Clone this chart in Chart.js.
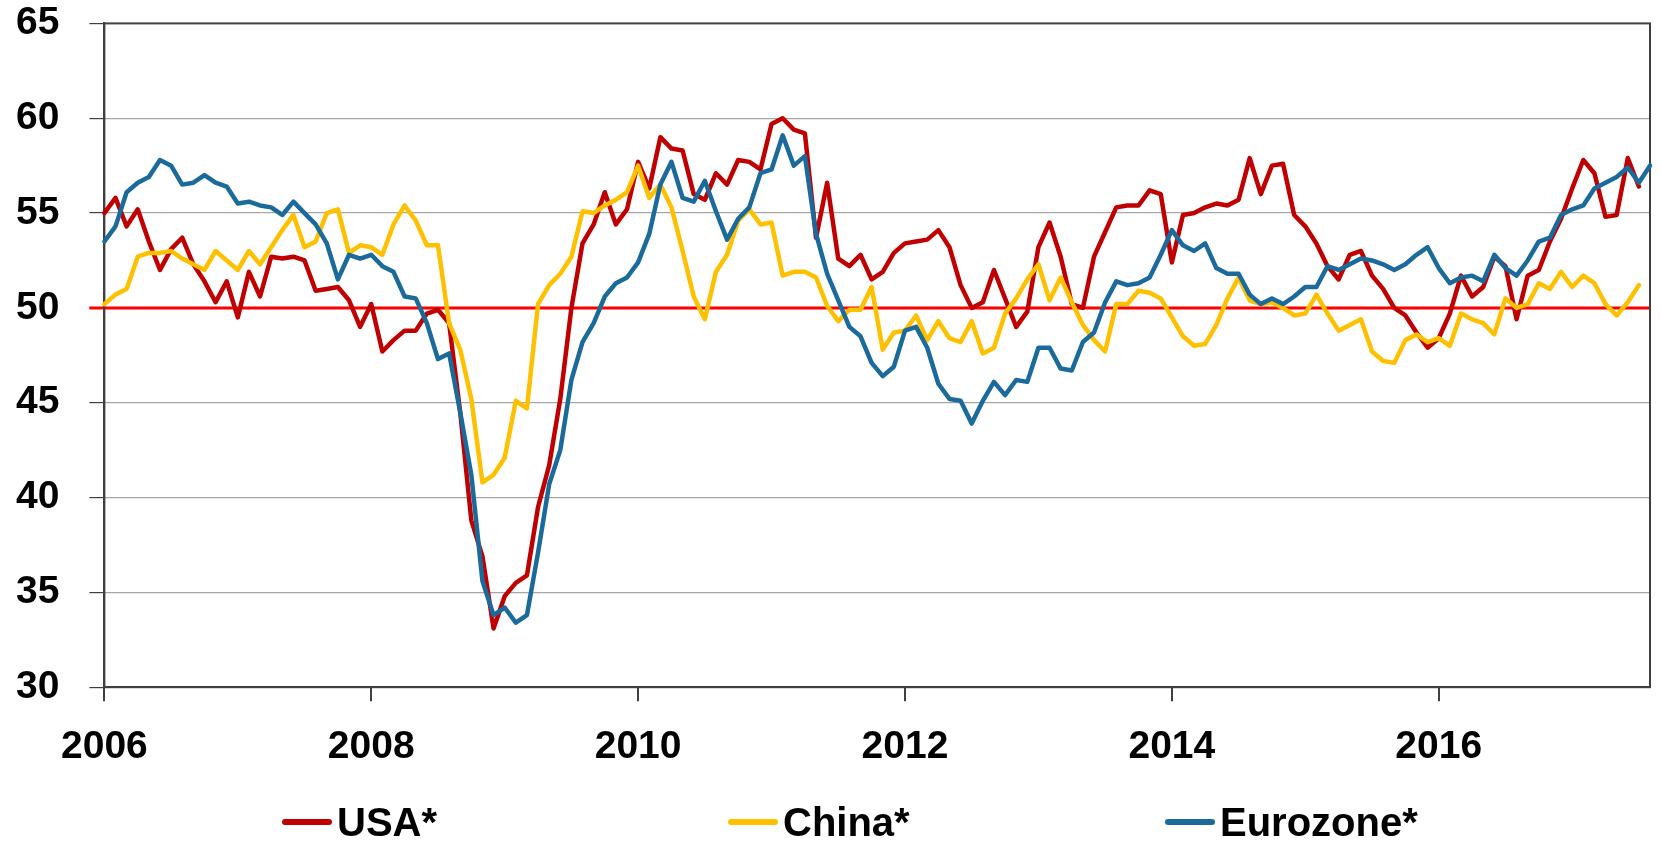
<!DOCTYPE html>
<html>
<head>
<meta charset="utf-8">
<script src="https://cdn.jsdelivr.net/npm/chart.js@4.4.1/dist/chart.umd.min.js"></script>
<style>
  body { margin: 0; background: #fff; }
  #wrap { position: relative; width: 1661px; height: 841px; overflow: hidden; }
  #pmiChart { position: absolute; left: -29px; top: -30px; }
  #legend { position: absolute; left: 0; top: 800px; width: 1661px; height: 44px;
            font: bold 40px 'Liberation Sans', Arial, sans-serif; color: #000; }
  .item { position: absolute; top: 0; height: 44px; display: flex; align-items: center; white-space: nowrap; }
  .swatch { width: 50px; height: 6px; border-radius: 3px; margin-right: 5px; }
</style>
</head>
<body>
<div id="wrap">
  <canvas id="pmiChart" width="1702" height="898"></canvas>
  <div id="legend"></div>
</div>
<script>
// monthly, Jan 2006 .. Aug 2017
const startYear = 2006;
const monthCount = 140;
const yearTicks = ['2006', '2008', '2010', '2012', '2014', '2016'];

const usa = [
  55.0, 55.8, 54.3, 55.2, 53.5, 52.0, 53.1, 53.7, 52.3, 51.4, 50.3, 51.4,
  49.5, 51.9, 50.6, 52.7, 52.6, 52.7, 52.5, 50.9, 51.0, 51.1, 50.4, 49.0,
  50.2, 47.7, 48.3, 48.8, 48.8, 49.7, 49.9, 49.2, 44.5, 38.8, 36.9, 33.1,
  34.8, 35.5, 35.9, 39.5, 41.7, 45.2, 50.0, 53.4, 54.4, 56.1, 54.4, 55.2,
  57.7, 56.3, 59.0, 58.4, 58.3, 56.0, 55.7, 57.1, 56.5, 57.8, 57.7, 57.3,
  59.7, 60.0, 59.4, 59.2, 53.7, 56.6, 52.6, 52.2, 52.8, 51.5, 51.9, 52.9,
  53.4, 53.5, 53.6, 54.1, 53.2, 51.2, 50.0, 50.3, 52.0, 50.5, 49.0, 49.8,
  53.2, 54.5, 52.7, 50.2, 50.0, 52.7, 54.0, 55.3, 55.4, 55.4, 56.2, 56.0,
  52.4, 54.9, 55.0, 55.3, 55.5, 55.4, 55.7, 57.9, 56.0, 57.5, 57.6, 54.9,
  54.3, 53.4, 52.2, 51.5, 52.8, 53.0, 51.7, 51.0, 50.0, 49.6, 48.7, 47.9,
  48.4, 49.7, 51.7, 50.6, 51.1, 52.7, 52.2, 49.4, 51.7, 52.0, 53.5, 54.7,
  56.3, 57.8, 57.1, 54.8, 54.9, 57.9, 56.4
];

const china = [
  50.2, 50.7, 51.0, 52.7, 52.9, 52.9, 53.0, 52.6, 52.3, 52.0, 53.0, 52.5,
  52.0, 53.0, 52.3, 53.2, 54.1, 54.9, 53.2, 53.5, 55.0, 55.2, 52.9, 53.3,
  53.2, 52.8, 54.4, 55.4, 54.6, 53.3, 53.3, 49.2, 47.8, 45.2, 40.8, 41.2,
  42.1, 45.1, 44.7, 50.2, 51.2, 51.8, 52.7, 55.1, 55.0, 55.4, 55.7, 56.1,
  57.5, 55.8, 56.5, 55.3, 53.0, 50.6, 49.4, 51.9, 52.8, 54.6, 55.2, 54.4,
  54.5, 51.7, 51.9, 51.9, 51.6, 50.1, 49.3, 49.9, 49.9, 51.1, 47.8, 48.7,
  48.8, 49.6, 48.3, 49.3, 48.4, 48.2, 49.3, 47.6, 47.9, 49.7, 50.5, 51.5,
  52.3, 50.4, 51.6, 50.3, 49.1, 48.3, 47.7, 50.2, 50.2, 50.9, 50.8, 50.5,
  49.5, 48.5, 48.0, 48.1, 49.1, 50.5, 51.6, 50.4, 50.2, 50.3, 50.0, 49.6,
  49.7, 50.7, 49.7, 48.8, 49.1, 49.4, 47.7, 47.2, 47.1, 48.3, 48.6, 48.2,
  48.4, 48.0, 49.7, 49.4, 49.2, 48.6, 50.5, 50.0, 50.2, 51.3, 51.0, 51.9,
  51.1, 51.7, 51.3, 50.2, 49.6, 50.3, 51.2
];

const eurozone = [
  53.5, 54.3, 56.1, 56.6, 56.9, 57.8, 57.5, 56.5, 56.6, 57.0, 56.6, 56.4,
  55.5, 55.6, 55.4, 55.3, 54.9, 55.6, 55.0, 54.4, 53.4, 51.5, 52.8, 52.6,
  52.8, 52.2, 51.9, 50.6, 50.5, 49.2, 47.3, 47.6, 44.5, 41.2, 35.6, 33.8,
  34.2, 33.4, 33.8, 37.1, 40.7, 42.5, 46.2, 48.2, 49.2, 50.6, 51.3, 51.6,
  52.4, 53.9, 56.5, 57.7, 55.8, 55.6, 56.7, 55.1, 53.6, 54.7, 55.3, 57.1,
  57.3, 59.1, 57.5, 58.0, 53.9, 51.8, 50.4, 49.0, 48.5, 47.1, 46.4, 46.9,
  48.8, 49.0, 47.9, 46.0, 45.2, 45.1, 43.9, 45.1, 46.1, 45.4, 46.2, 46.1,
  47.9, 47.9, 46.8, 46.7, 48.2, 48.7, 50.3, 51.4, 51.2, 51.3, 51.6, 52.8,
  54.1, 53.3, 53.0, 53.4, 52.1, 51.8, 51.8, 50.7, 50.2, 50.5, 50.2, 50.6,
  51.1, 51.1, 52.2, 52.0, 52.3, 52.6, 52.5, 52.3, 52.0, 52.3, 52.8, 53.2,
  52.1, 51.3, 51.6, 51.7, 51.4, 52.8, 52.1, 51.7, 52.5, 53.5, 53.7, 54.9,
  55.2, 55.4, 56.3, 56.6, 56.9, 57.4, 56.6, 57.5
];

const seriesNames = ['USA*', 'China*', 'Eurozone*'];
const seriesColors = ['#C00000', '#FFC000', '#1B6A9C'];
const threshold = 50;

const labels = [];
for (let i = 0; i < monthCount; i++) {
  const y = startYear + Math.floor(i / 12);
  const m = (i % 12) + 1;
  labels.push(y + '-' + (m < 10 ? '0' + m : m));
}

const tickFont = { family: "'Liberation Sans', Arial, sans-serif", size: 39, weight: 'bold' };

// frame round the plot + red 50 line
const framePlugin = {
  id: 'frame',
  beforeDatasetsDraw(chart) {
    const { ctx, chartArea: a, scales } = chart;
    const y50 = scales.y.getPixelForValue(threshold);
    ctx.save();
    ctx.strokeStyle = '#FF0000';
    ctx.lineWidth = 3;
    ctx.beginPath();
    ctx.moveTo(a.left - 15, y50);
    ctx.lineTo(a.right, y50);
    ctx.stroke();
    ctx.strokeStyle = '#404040';
    ctx.lineWidth = 2;
    ctx.strokeRect(a.left, a.top, a.right - a.left, a.bottom - a.top);
    ctx.restore();
  }
};

const data = [usa, china, eurozone];

new Chart(document.getElementById('pmiChart'), {
  type: 'line',
  data: {
    labels: labels,
    datasets: data.map((d, k) => ({
      label: seriesNames[k],
      data: d,
      borderColor: seriesColors[k],
      backgroundColor: seriesColors[k],
      borderWidth: 4.5,
      borderJoinStyle: 'round',
      borderCapStyle: 'round',
      pointRadius: 0,
      tension: 0,
      order: 2 - k
    }))
  },
  options: {
    responsive: false,
    animation: false,
    devicePixelRatio: 1,
    layout: { padding: { top: 23, left: 15, right: 11, bottom: 74 } },
    plugins: { legend: { display: false }, tooltip: { enabled: false } },
    scales: {
      x: {
        type: 'category',
        offset: false,
        grid: {
          drawOnChartArea: false,
          tickLength: 14,
          color: ctx => (ctx.index % 24 === 0 ? '#404040' : 'rgba(0,0,0,0)'),
          lineWidth: 2
        },
        border: { display: true, color: '#404040', width: 2 },
        ticks: {
          autoSkip: false,
          maxRotation: 0,
          minRotation: 0,
          padding: 23,
          color: '#000',
          font: tickFont,
          callback: (v, i) => (i % 24 === 0 ? yearTicks[i / 24] : '')
        }
      },
      y: {
        min: 30,
        max: 65,
        grid: {
          tickLength: 15,
          color: ctx => (ctx.tick && (ctx.tick.value === 30 || ctx.tick.value === 65) ? 'rgba(0,0,0,0)' : '#A6A6A6'),
          tickColor: '#404040',
          lineWidth: 1.2
        },
        border: { display: true, color: '#404040', width: 2 },
        ticks: { stepSize: 5, padding: 30, color: '#000', font: tickFont }
      }
    }
  },
  plugins: [framePlugin]
});

// legend under the plot
const legendX = [282, 728, 1165];
const legend = document.getElementById('legend');
seriesNames.forEach((name, k) => {
  const item = document.createElement('div');
  item.className = 'item';
  item.style.left = legendX[k] + 'px';
  const sw = document.createElement('span');
  sw.className = 'swatch';
  sw.style.background = seriesColors[k];
  const tx = document.createElement('span');
  tx.textContent = name;
  item.appendChild(sw);
  item.appendChild(tx);
  legend.appendChild(item);
});
</script>
</body>
</html>
